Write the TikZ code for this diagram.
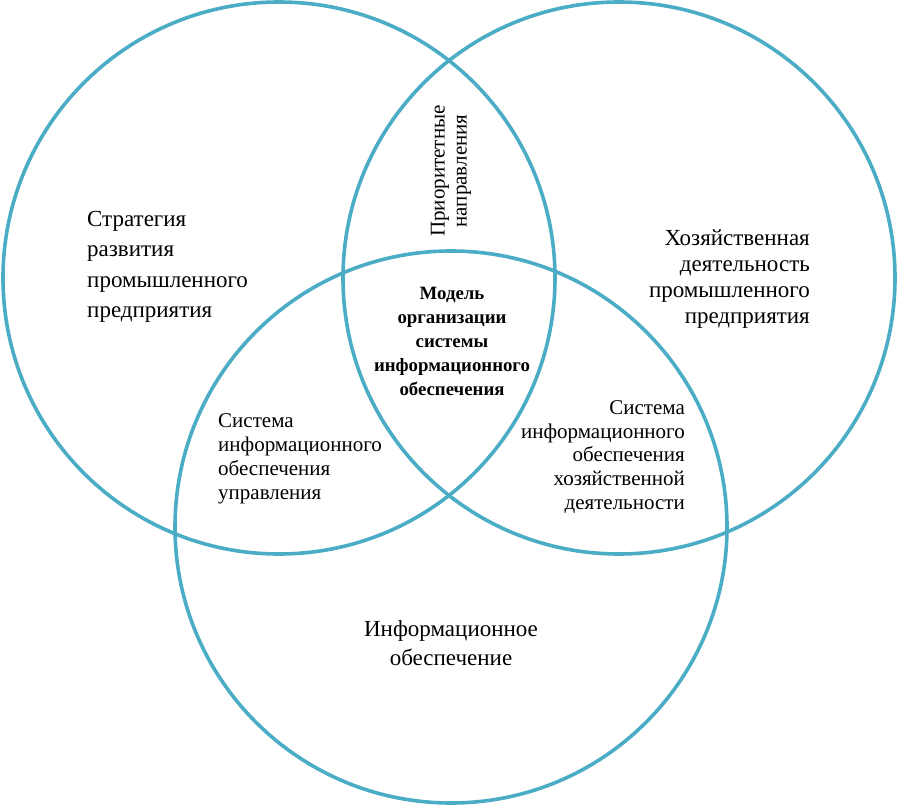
\documentclass[tikz,border=0pt]{standalone}
\usepackage{fontspec}
\setmainfont{Liberation Serif}
\definecolor{ring}{HTML}{4BACC6}
\tikzset{
  ring/.style={draw=ring, line width=3.6pt},
  lbl/.style={inner sep=0pt, text=black},
  boldlbl/.style={font=\fontsize{18.8}{24}\selectfont\bfseries, inner sep=0pt, align=center}
}
\begin{document}
\begin{tikzpicture}[x=1pt,y=-1pt]
\useasboundingbox (0,0) rectangle (897,805);
\node[ring, circle, minimum size=552pt, inner sep=0pt] (L) at (279,278) {};
\node[ring, circle, minimum size=552pt, inner sep=0pt] (R) at (619,278) {};
\node[ring, circle, minimum size=552pt, inner sep=0pt] (B) at (451,527) {};
\node[lbl, align=left, anchor=west, font=\fontsize{23}{30.5}\selectfont] (t1) at (87,267) {Стратегия\\развития\\промышленного\\предприятия};
\node[lbl, align=right, anchor=east, font=\fontsize{23}{26.2}\selectfont] (t2) at (810,279) {Хозяйственная\\деятельность\\промышленного\\предприятия};
\node[lbl, align=left, anchor=west, font=\fontsize{21}{24}\selectfont] (t3) at (218,459) {Система\\информационного\\обеспечения\\управления};
\node[lbl, align=right, anchor=east, font=\fontsize{21}{23.8}\selectfont] (t4) at (685,457) {Система\\информационного\\обеспечения\\хозяйственной\\деятельности};
\node[lbl, align=center, font=\fontsize{23}{29}\selectfont] (t5) at (451,643) {Информационное\\обеспечение};
\node[boldlbl] (t6) at (452,341) {Модель\\организации\\системы\\информационного\\обеспечения};
\node[lbl, align=center, rotate=90, font=\fontsize{21}{22}\selectfont] (t7) at (451,171) {Приоритетные\\направления};
\end{tikzpicture}
\end{document}
